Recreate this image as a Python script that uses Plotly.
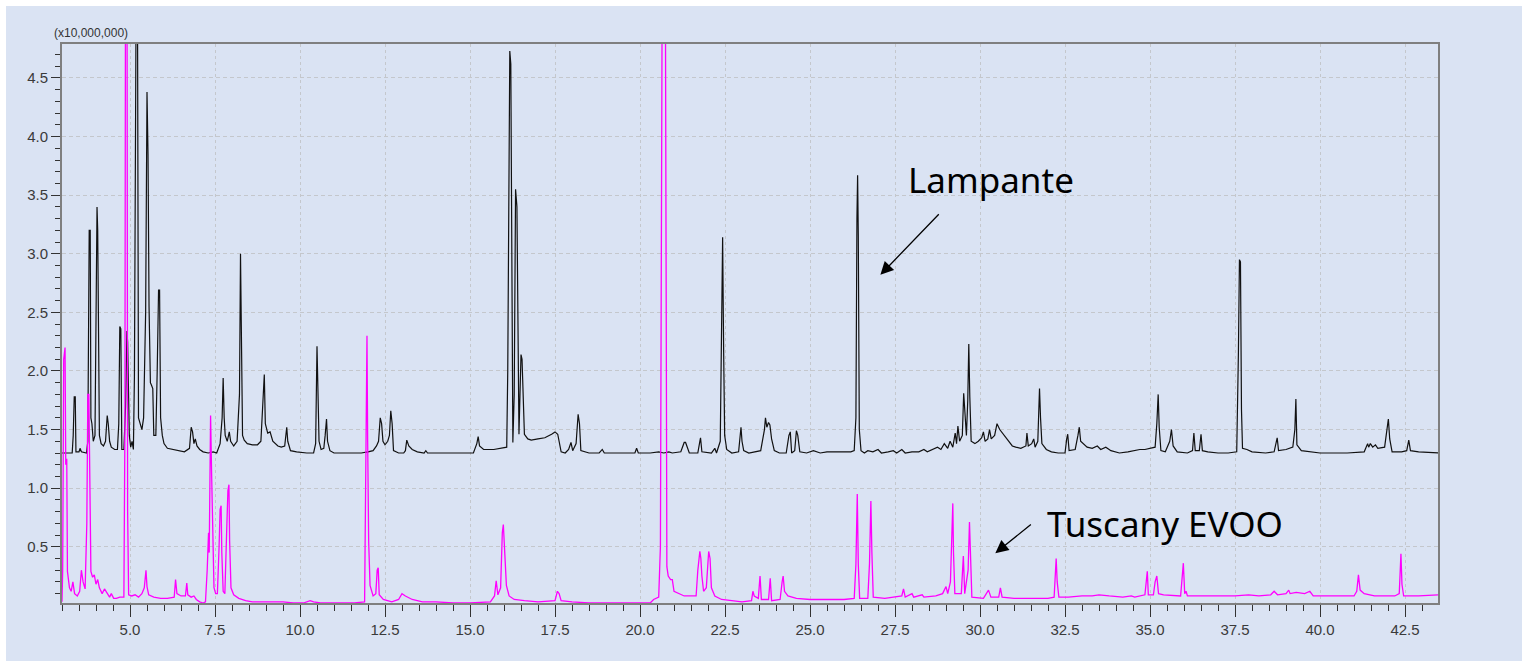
import plotly.graph_objects as go

# Total ion chromatograms, retention time (min) vs. abundance (x10,000,000)
LAMPANTE = [
    (3.00, 1.30), (3.30, 1.30), (3.33, 1.45), (3.36, 1.78), (3.39, 1.78), (3.41, 1.31),
    (3.50, 1.31), (3.53, 1.34), (3.57, 1.31), (3.72, 1.30), (3.76, 1.40), (3.80, 3.20),
    (3.83, 3.20), (3.85, 1.60), (3.88, 1.55), (3.92, 1.40), (3.97, 1.45), (4.00, 2.95),
    (4.03, 3.40), (4.05, 3.20), (4.08, 2.05), (4.10, 1.45), (4.15, 1.38), (4.22, 1.36),
    (4.28, 1.40), (4.33, 1.62), (4.36, 1.55), (4.40, 1.40), (4.45, 1.35), (4.55, 1.33),
    (4.63, 1.33), (4.67, 1.55), (4.70, 2.38), (4.73, 2.36), (4.76, 1.33), (4.82, 1.33),
    (4.87, 1.70), (4.91, 2.34), (4.93, 2.25), (4.95, 1.97), (4.98, 1.45), (5.02, 1.35),
    (5.06, 1.40), (5.10, 1.33), (5.13, 1.95), (5.18, 5.20), (5.22, 5.20), (5.25, 1.60),
    (5.30, 1.55), (5.35, 1.50), (5.40, 1.60), (5.46, 2.50), (5.50, 4.38), (5.53, 3.85),
    (5.56, 2.55), (5.60, 1.90), (5.63, 1.88), (5.67, 1.85), (5.70, 1.45), (5.76, 1.45),
    (5.80, 2.00), (5.84, 2.69), (5.87, 2.69), (5.90, 1.60), (5.95, 1.45), (6.00, 1.38),
    (6.10, 1.34), (6.30, 1.33), (6.50, 1.32), (6.60, 1.31), (6.75, 1.34), (6.80, 1.52),
    (6.84, 1.48), (6.88, 1.38), (6.92, 1.42), (6.97, 1.36), (7.05, 1.33), (7.15, 1.31),
    (7.30, 1.30), (7.45, 1.31), (7.55, 1.30), (7.65, 1.38), (7.71, 1.60), (7.74, 1.94),
    (7.77, 1.60), (7.80, 1.45), (7.86, 1.40), (7.92, 1.48), (7.96, 1.40), (8.05, 1.36),
    (8.15, 1.40), (8.22, 1.80), (8.25, 3.00), (8.28, 2.27), (8.31, 1.45), (8.36, 1.41),
    (8.45, 1.38), (8.60, 1.37), (8.75, 1.37), (8.85, 1.40), (8.92, 1.80), (8.95, 1.97),
    (8.98, 1.55), (9.05, 1.47), (9.12, 1.48), (9.20, 1.40), (9.35, 1.36), (9.45, 1.35),
    (9.55, 1.36), (9.58, 1.42), (9.61, 1.52), (9.64, 1.40), (9.72, 1.32), (9.90, 1.31),
    (10.20, 1.30), (10.40, 1.30), (10.46, 1.38), (10.50, 2.21), (10.53, 1.85), (10.56, 1.40),
    (10.62, 1.33), (10.70, 1.34), (10.74, 1.45), (10.78, 1.59), (10.81, 1.40), (10.88, 1.32),
    (11.00, 1.30), (11.30, 1.30), (11.50, 1.30), (11.80, 1.30), (12.00, 1.31), (12.15, 1.32),
    (12.25, 1.36), (12.31, 1.40), (12.36, 1.60), (12.40, 1.55), (12.44, 1.40), (12.50, 1.37),
    (12.58, 1.40), (12.63, 1.45), (12.67, 1.66), (12.71, 1.55), (12.75, 1.32), (12.90, 1.30),
    (13.05, 1.30), (13.10, 1.32), (13.14, 1.41), (13.20, 1.36), (13.30, 1.33), (13.45, 1.31),
    (13.65, 1.30), (13.70, 1.32), (13.75, 1.30), (14.00, 1.30), (14.50, 1.30), (15.10, 1.30),
    (15.20, 1.38), (15.24, 1.44), (15.28, 1.36), (15.40, 1.33), (15.70, 1.33), (15.95, 1.34),
    (16.08, 1.35), (16.11, 2.00), (16.14, 3.74), (16.17, 4.73), (16.20, 4.62), (16.23, 2.40),
    (16.26, 1.39), (16.30, 1.80), (16.34, 3.55), (16.38, 3.40), (16.41, 2.54), (16.44, 1.46),
    (16.47, 1.80), (16.50, 2.14), (16.53, 2.10), (16.56, 1.86), (16.60, 1.46), (16.70, 1.42),
    (16.80, 1.41), (17.00, 1.42), (17.20, 1.43), (17.40, 1.46), (17.50, 1.48), (17.58, 1.46),
    (17.68, 1.31), (17.80, 1.30), (17.90, 1.33), (17.97, 1.39), (18.02, 1.32), (18.12, 1.38),
    (18.18, 1.63), (18.22, 1.55), (18.26, 1.32), (18.50, 1.30), (18.80, 1.30), (18.89, 1.33),
    (18.95, 1.30), (19.30, 1.30), (19.85, 1.30), (19.90, 1.34), (19.95, 1.30), (20.30, 1.30),
    (20.55, 1.31), (20.70, 1.30), (20.85, 1.31), (20.95, 1.30), (21.20, 1.31), (21.30, 1.39),
    (21.34, 1.39), (21.45, 1.30), (21.70, 1.30), (21.76, 1.40), (21.78, 1.43), (21.82, 1.31),
    (22.10, 1.30), (22.20, 1.34), (22.25, 1.30), (22.36, 1.40), (22.40, 2.30), (22.43, 3.14),
    (22.46, 2.16), (22.49, 1.45), (22.55, 1.33), (22.70, 1.30), (22.90, 1.31), (22.94, 1.48),
    (22.97, 1.52), (23.00, 1.40), (23.05, 1.32), (23.20, 1.30), (23.40, 1.31), (23.55, 1.32),
    (23.66, 1.50), (23.69, 1.60), (23.73, 1.52), (23.78, 1.56), (23.82, 1.54), (23.87, 1.42),
    (23.95, 1.32), (24.10, 1.30), (24.30, 1.30), (24.38, 1.45), (24.42, 1.48), (24.46, 1.30),
    (24.55, 1.32), (24.60, 1.49), (24.64, 1.45), (24.70, 1.31), (24.90, 1.30), (25.10, 1.32),
    (25.30, 1.30), (25.50, 1.31), (25.80, 1.31), (26.00, 1.31), (26.20, 1.31), (26.30, 1.32),
    (26.35, 1.60), (26.38, 3.30), (26.40, 3.67), (26.42, 3.16), (26.45, 1.50), (26.50, 1.32),
    (26.60, 1.30), (26.70, 1.32), (26.85, 1.31), (27.00, 1.33), (27.10, 1.30), (27.30, 1.31),
    (27.45, 1.32), (27.55, 1.30), (27.70, 1.33), (27.80, 1.30), (28.00, 1.31), (28.20, 1.31),
    (28.35, 1.33), (28.45, 1.31), (28.60, 1.33), (28.75, 1.35), (28.85, 1.33), (28.95, 1.38),
    (29.05, 1.34), (29.12, 1.40), (29.20, 1.35), (29.27, 1.47), (29.31, 1.38), (29.35, 1.53),
    (29.40, 1.40), (29.48, 1.45), (29.52, 1.81), (29.56, 1.60), (29.60, 1.45), (29.64, 1.75),
    (29.67, 2.23), (29.70, 1.78), (29.74, 1.40), (29.85, 1.38), (29.95, 1.40), (30.05, 1.43),
    (30.10, 1.48), (30.15, 1.40), (30.23, 1.42), (30.28, 1.50), (30.33, 1.42), (30.43, 1.45),
    (30.50, 1.55), (30.58, 1.50), (30.66, 1.47), (30.75, 1.43), (30.85, 1.40), (30.95, 1.36),
    (31.05, 1.35), (31.20, 1.34), (31.35, 1.36), (31.38, 1.47), (31.42, 1.36), (31.52, 1.38),
    (31.58, 1.42), (31.62, 1.35), (31.70, 1.40), (31.75, 1.85), (31.78, 1.60), (31.82, 1.38),
    (31.95, 1.33), (32.10, 1.31), (32.30, 1.30), (32.50, 1.30), (32.55, 1.42), (32.58, 1.46),
    (32.62, 1.32), (32.80, 1.33), (32.88, 1.45), (32.92, 1.52), (32.96, 1.40), (33.05, 1.38),
    (33.15, 1.35), (33.30, 1.34), (33.45, 1.36), (33.55, 1.33), (33.70, 1.35), (33.85, 1.32),
    (34.10, 1.30), (34.35, 1.31), (34.55, 1.32), (34.70, 1.33), (34.85, 1.33), (35.00, 1.34),
    (35.15, 1.35), (35.20, 1.55), (35.24, 1.80), (35.27, 1.52), (35.32, 1.32), (35.45, 1.31),
    (35.58, 1.40), (35.63, 1.50), (35.68, 1.36), (35.80, 1.31), (36.10, 1.30), (36.25, 1.32),
    (36.29, 1.47), (36.33, 1.32), (36.45, 1.32), (36.50, 1.46), (36.54, 1.32), (36.70, 1.31),
    (37.00, 1.30), (37.30, 1.30), (37.55, 1.31), (37.60, 2.16), (37.63, 2.95), (37.66, 2.93),
    (37.69, 1.67), (37.72, 1.34), (37.85, 1.33), (38.00, 1.31), (38.40, 1.30), (38.65, 1.31),
    (38.71, 1.40), (38.74, 1.43), (38.78, 1.32), (39.00, 1.33), (39.20, 1.35), (39.26, 1.50),
    (39.29, 1.76), (39.32, 1.37), (39.45, 1.32), (40.00, 1.30), (40.80, 1.30), (41.30, 1.31),
    (41.40, 1.38), (41.43, 1.35), (41.48, 1.38), (41.55, 1.35), (41.63, 1.37), (41.70, 1.34),
    (41.90, 1.35), (41.97, 1.50), (42.01, 1.59), (42.05, 1.42), (42.12, 1.31), (42.40, 1.31),
    (42.55, 1.32), (42.61, 1.41), (42.66, 1.32), (42.90, 1.31), (43.50, 1.30),
]

TUSCANY_EVOO = [
    (3.00, 0.03), (3.02, 0.30), (3.05, 2.10), (3.07, 2.20), (3.09, 2.20), (3.11, 1.20),
    (3.14, 1.25), (3.16, 0.29), (3.22, 0.15), (3.27, 0.12), (3.32, 0.20), (3.37, 0.10),
    (3.45, 0.08), (3.52, 0.12), (3.57, 0.30), (3.62, 0.20), (3.68, 0.14), (3.73, 0.70),
    (3.76, 1.80), (3.79, 1.80), (3.82, 1.20), (3.85, 0.29), (3.90, 0.24), (3.95, 0.26),
    (4.00, 0.18), (4.05, 0.22), (4.10, 0.15), (4.18, 0.10), (4.25, 0.14), (4.32, 0.11),
    (4.40, 0.07), (4.45, 0.10), (4.52, 0.06), (4.60, 0.06), (4.70, 0.07), (4.82, 0.07),
    (4.85, 1.50), (4.87, 6.00), (4.91, 6.00), (4.93, 0.80), (4.96, 0.09), (5.05, 0.08),
    (5.15, 0.09), (5.25, 0.07), (5.35, 0.10), (5.42, 0.15), (5.47, 0.30), (5.50, 0.16),
    (5.55, 0.09), (5.70, 0.07), (5.90, 0.06), (6.10, 0.06), (6.30, 0.07), (6.34, 0.22),
    (6.38, 0.10), (6.50, 0.08), (6.63, 0.08), (6.67, 0.19), (6.70, 0.09), (6.80, 0.07),
    (6.88, 0.08), (6.95, 0.05), (7.05, 0.03), (7.15, 0.02), (7.22, 0.03), (7.27, 0.30),
    (7.31, 0.62), (7.33, 0.45), (7.35, 1.58), (7.37, 1.62), (7.40, 1.13), (7.43, 0.55),
    (7.47, 0.15), (7.52, 0.10), (7.57, 0.10), (7.62, 0.50), (7.65, 0.82), (7.68, 0.85),
    (7.70, 0.45), (7.74, 0.12), (7.79, 0.10), (7.84, 0.60), (7.88, 0.98), (7.91, 1.03),
    (7.93, 0.55), (7.97, 0.15), (8.05, 0.09), (8.20, 0.06), (8.40, 0.04), (8.60, 0.03),
    (9.00, 0.03), (9.50, 0.03), (9.80, 0.02), (10.10, 0.02), (10.30, 0.04), (10.40, 0.03),
    (10.60, 0.02), (11.00, 0.02), (11.30, 0.02), (11.60, 0.02), (11.90, 0.03), (11.93, 1.20),
    (11.97, 2.30), (11.99, 1.40), (12.02, 0.54), (12.06, 0.17), (12.15, 0.08), (12.23, 0.10),
    (12.27, 0.30), (12.30, 0.32), (12.33, 0.09), (12.45, 0.05), (12.70, 0.03), (12.90, 0.05),
    (13.00, 0.10), (13.10, 0.08), (13.30, 0.05), (13.60, 0.03), (14.00, 0.03), (14.50, 0.02),
    (15.00, 0.02), (15.60, 0.03), (15.72, 0.08), (15.77, 0.21), (15.82, 0.09), (15.90, 0.15),
    (15.95, 0.62), (15.98, 0.69), (16.02, 0.45), (16.07, 0.17), (16.15, 0.08), (16.30, 0.05),
    (16.60, 0.04), (17.00, 0.03), (17.50, 0.04), (17.57, 0.12), (17.62, 0.10), (17.68, 0.04),
    (18.00, 0.03), (18.50, 0.02), (19.00, 0.02), (19.50, 0.02), (20.00, 0.02), (20.30, 0.02),
    (20.40, 0.05), (20.55, 0.07), (20.60, 0.50), (20.63, 3.68), (20.66, 6.00), (20.74, 6.00),
    (20.76, 2.30), (20.79, 0.33), (20.83, 0.25), (20.90, 0.22), (20.95, 0.22), (21.00, 0.12),
    (21.30, 0.08), (21.65, 0.08), (21.70, 0.30), (21.76, 0.46), (21.79, 0.40), (21.82, 0.25),
    (21.87, 0.12), (21.95, 0.15), (22.02, 0.46), (22.06, 0.40), (22.10, 0.15), (22.20, 0.08),
    (22.40, 0.05), (22.70, 0.04), (23.00, 0.03), (23.28, 0.04), (23.32, 0.12), (23.36, 0.08),
    (23.48, 0.06), (23.53, 0.25), (23.57, 0.05), (23.78, 0.05), (23.83, 0.23), (23.87, 0.04),
    (24.12, 0.05), (24.18, 0.20), (24.21, 0.25), (24.25, 0.12), (24.35, 0.08), (24.60, 0.06),
    (25.00, 0.05), (25.50, 0.05), (26.00, 0.05), (26.30, 0.06), (26.35, 0.35), (26.39, 0.95),
    (26.42, 0.35), (26.46, 0.06), (26.70, 0.06), (26.75, 0.36), (26.79, 0.89), (26.82, 0.45),
    (26.86, 0.07), (27.20, 0.06), (27.70, 0.08), (27.75, 0.14), (27.80, 0.07), (28.00, 0.10),
    (28.05, 0.07), (28.30, 0.09), (28.35, 0.07), (28.70, 0.08), (28.90, 0.10), (29.00, 0.16),
    (29.05, 0.10), (29.13, 0.20), (29.18, 0.80), (29.20, 0.87), (29.22, 0.45), (29.26, 0.10),
    (29.45, 0.10), (29.51, 0.42), (29.55, 0.10), (29.65, 0.30), (29.69, 0.71), (29.72, 0.50),
    (29.76, 0.07), (30.10, 0.06), (30.20, 0.10), (30.25, 0.13), (30.32, 0.07), (30.55, 0.07),
    (30.60, 0.15), (30.65, 0.07), (31.00, 0.06), (31.50, 0.06), (32.00, 0.06), (32.18, 0.07),
    (32.22, 0.25), (32.24, 0.40), (32.27, 0.20), (32.32, 0.07), (32.60, 0.07), (33.00, 0.08),
    (33.30, 0.08), (33.50, 0.09), (33.80, 0.08), (34.20, 0.07), (34.45, 0.08), (34.55, 0.07),
    (34.85, 0.09), (34.90, 0.24), (34.92, 0.29), (34.95, 0.09), (35.10, 0.09), (35.15, 0.20),
    (35.20, 0.25), (35.25, 0.10), (35.40, 0.09), (35.90, 0.08), (35.95, 0.28), (35.98, 0.36),
    (36.02, 0.10), (36.06, 0.12), (36.10, 0.08), (36.50, 0.08), (37.00, 0.08), (37.50, 0.08),
    (37.90, 0.09), (38.20, 0.08), (38.55, 0.09), (38.65, 0.12), (38.75, 0.09), (39.00, 0.10),
    (39.08, 0.13), (39.12, 0.10), (39.30, 0.11), (39.55, 0.10), (39.70, 0.12), (39.80, 0.08),
    (40.50, 0.08), (41.00, 0.08), (41.08, 0.12), (41.13, 0.26), (41.18, 0.13), (41.30, 0.10),
    (41.60, 0.08), (42.20, 0.08), (42.33, 0.10), (42.36, 0.30), (42.38, 0.44), (42.41, 0.18),
    (42.46, 0.08), (42.90, 0.08), (43.50, 0.09),
]

X_RANGE = [3.0, 43.47]
Y_RANGE = [0.02, 4.79]
SCALE_LABEL = "(x10,000,000)"
SAMPLE_LABELS = ["Lampante", "Tuscany EVOO"]

PANEL = "#DAE3F3"
TICK_FONT = dict(family="Liberation Sans", size=15, color="#3a3a3a")
GRID = "#c4c7cc"

lam_t, lam_i = zip(*LAMPANTE)
evo_t, evo_i = zip(*TUSCANY_EVOO)

fig = go.Figure()
fig.add_trace(go.Scatter(x=lam_t, y=lam_i, mode="lines", name=SAMPLE_LABELS[0],
                         line=dict(color="#111111", width=1.2)))
fig.add_trace(go.Scatter(x=evo_t, y=evo_i, mode="lines", name=SAMPLE_LABELS[1],
                         line=dict(color="#FF00FF", width=1.3)))

W, H = 1528, 667
L, R, T, B = 62, 90, 44, 64
pw, ph = W - L - R, H - T - B

def px_to_paper(x0, y0, x1, y1):
    return dict(x0=(x0 - L) / pw, x1=(x1 - L) / pw,
                y0=(H - B - y0) / ph, y1=(H - B - y1) / ph)

fig.update_layout(
    width=W, height=H,
    margin=dict(l=L, r=R, t=T, b=B),
    paper_bgcolor="white",
    plot_bgcolor=PANEL,
    showlegend=False,
    shapes=[dict(type="rect", xref="paper", yref="paper", layer="below",
                 fillcolor=PANEL, line=dict(width=0),
                 **px_to_paper(6, 6, 1522, 661))],
    xaxis=dict(
        range=X_RANGE, tick0=0, dtick=2.5, tickformat=".1f",
        ticks="outside", ticklen=12, tickwidth=1.3, tickcolor="#333333",
        tickfont=TICK_FONT,
        showline=True, linecolor="#7f7f7f", linewidth=2, mirror=True,
        showgrid=True, gridcolor=GRID, gridwidth=1, griddash="3px,3px",
        zeroline=False,
        minor=dict(dtick=0.5, tick0=0, ticks="outside", ticklen=6,
                   tickcolor="#333333", tickwidth=1, showgrid=False),
    ),
    yaxis=dict(
        range=Y_RANGE, tick0=0, dtick=0.5, tickformat=".1f",
        ticks="outside", ticklen=9, tickwidth=1.3, tickcolor="#333333",
        tickfont=TICK_FONT,
        showline=True, linecolor="#7f7f7f", linewidth=2, mirror=True,
        showgrid=True, gridcolor=GRID, gridwidth=1, griddash="4px,3px",
        zeroline=False,
        minor=dict(dtick=0.1, tick0=0, ticks="outside", ticklen=5,
                   tickcolor="#333333", tickwidth=1, showgrid=False),
    ),
)

# axis scale factor above the y-axis
fig.add_annotation(text=SCALE_LABEL, xref="paper", yref="paper",
                   x=(52 - L) / pw, y=1 + 11 / ph, xanchor="left", yanchor="middle",
                   showarrow=False,
                   font=dict(family="Liberation Sans", size=12, color="#333333"))

# sample labels with pointer arrows
label_font = dict(family="Noto Sans", size=35, color="#000000")
fig.add_annotation(text=SAMPLE_LABELS[0], x=30.33, y=3.63, xref="x", yref="y",
                   showarrow=False, xanchor="center", yanchor="middle", font=label_font)
fig.add_annotation(text=SAMPLE_LABELS[1], x=35.45, y=0.70, xref="x", yref="y",
                   showarrow=False, xanchor="center", yanchor="middle", font=label_font)

for head, tail in [((27.07, 2.82), (28.83, 3.35)), ((30.45, 0.445), (31.54, 0.70))]:
    fig.add_annotation(text="", x=head[0], y=head[1], ax=tail[0], ay=tail[1],
                       xref="x", yref="y", axref="x", ayref="y",
                       showarrow=True, arrowhead=2, arrowsize=2.0, arrowwidth=1.3,
                       arrowcolor="#000000")

fig.write_html("out.html")
